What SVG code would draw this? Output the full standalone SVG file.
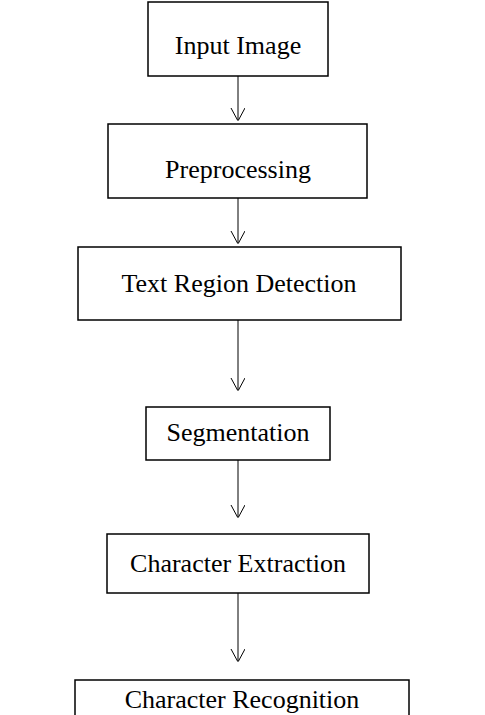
<svg xmlns="http://www.w3.org/2000/svg" width="485" height="715" viewBox="0 0 485 715">
<style>
.box{fill:#fff;stroke:#000;stroke-width:1.5}
.lbl{font-family:"Liberation Serif","Times New Roman",serif;font-size:26px;fill:#000;text-anchor:middle}
.conn{stroke:#000;stroke-width:1;fill:none}
</style>
<defs>
<marker id="arr" markerWidth="12" markerHeight="16" refX="13" refY="7" orient="auto" markerUnits="userSpaceOnUse">
<path d="M0,0 L13,7 L0,14" fill="none" stroke="#000" stroke-width="1"/>
</marker>
</defs>
<rect width="485" height="715" fill="#fff"/>
<g id="connectors">
<line class="conn" x1="238" y1="76" x2="238" y2="121" marker-end="url(#arr)"/>
<line class="conn" x1="238" y1="198" x2="238" y2="244" marker-end="url(#arr)"/>
<line class="conn" x1="238" y1="320" x2="238" y2="391" marker-end="url(#arr)"/>
<line class="conn" x1="238" y1="460" x2="238" y2="518" marker-end="url(#arr)"/>
<line class="conn" x1="238" y1="593" x2="238" y2="662" marker-end="url(#arr)"/>
</g>
<g id="input-image">
<rect class="box" x="148" y="2" width="180" height="74"/>
<text class="lbl" x="238" y="54">Input Image</text>
</g>
<g id="preprocessing">
<rect class="box" x="108" y="124" width="259" height="74"/>
<text class="lbl" x="238" y="178">Preprocessing</text>
</g>
<g id="text-region-detection">
<rect class="box" x="78" y="247" width="323" height="73"/>
<text class="lbl" x="239" y="292">Text Region Detection</text>
</g>
<g id="segmentation">
<rect class="box" x="146" y="407" width="184" height="53"/>
<text class="lbl" x="238" y="441">Segmentation</text>
</g>
<g id="character-extraction">
<rect class="box" x="107" y="534" width="262" height="59"/>
<text class="lbl" x="238" y="572">Character Extraction</text>
</g>
<g id="character-recognition">
<rect class="box" x="75" y="680" width="334" height="60"/>
<text class="lbl" x="242" y="708">Character Recognition</text>
</g>
</svg>
